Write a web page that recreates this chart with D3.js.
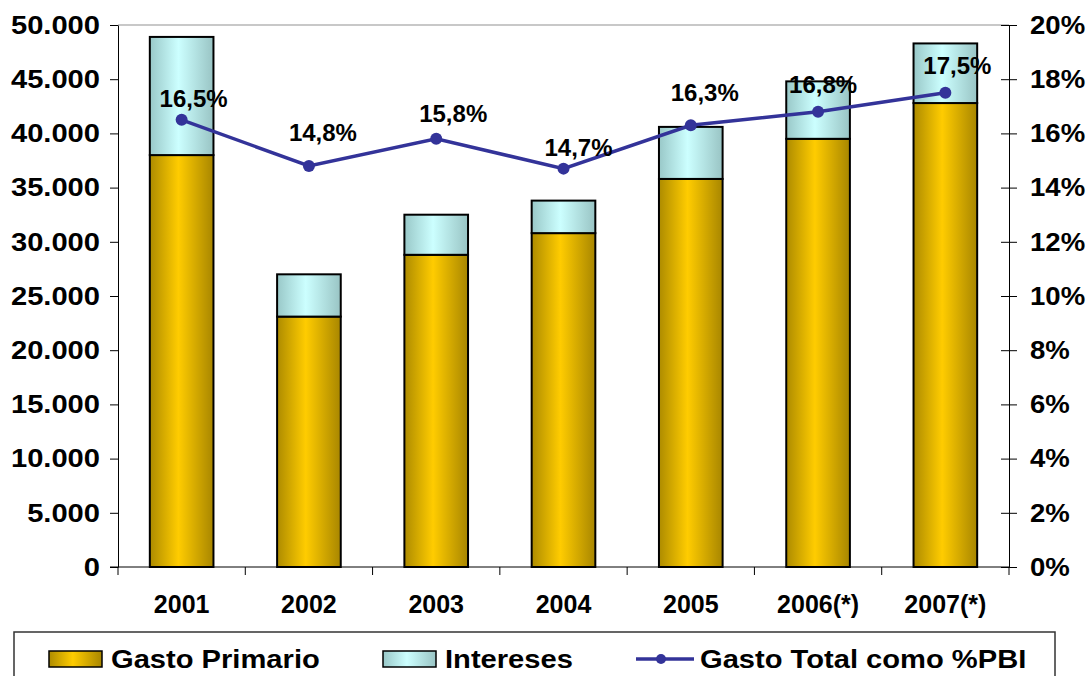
<!DOCTYPE html>
<html>
<head>
<meta charset="utf-8">
<script src="https://cdn.jsdelivr.net/npm/d3@7"></script>
<style>
  body { margin: 0; background: #fff; }
  svg { display: block; }
  text { font-family: "Liberation Sans", Arial, sans-serif; font-weight: bold; fill: #000; }
</style>
</head>
<body>
<svg id="chart" width="1088" height="676"></svg>
<script>
// data
const years = ['2001', '2002', '2003', '2004', '2005', '2006(*)', '2007(*)'];
const gastoPrimario = [38000, 23100, 28800, 30800, 35800, 39500, 42800];
const intereses = [10900, 3900, 3700, 3000, 4800, 5300, 5500];
const gastoTotalPBI = [16.5, 14.8, 15.8, 14.7, 16.3, 16.8, 17.5];
const leftTicks = [0, 5000, 10000, 15000, 20000, 25000, 30000, 35000, 40000, 45000, 50000];
const rightTicks = [0, 2, 4, 6, 8, 10, 12, 14, 16, 18, 20];
const seriesNames = ['Gasto Primario', 'Intereses', 'Gasto Total como %PBI'];

// hand placed label nudges (dx, dy from the marker), as in the original
const labelNudge = [[12, -13], [14, -25], [17, -17], [15, -13], [14, -24], [5, -19], [12, -19]];

const plot = { left: 118, right: 1009, top: 25, bottom: 567 };
const lineColor = '#333399';

const es = d3.formatLocale({ decimal: ',', thousands: '.', grouping: [3], currency: ['', ''] });
const fmtThousands = es.format(',');
const fmtPct = es.format('.1f');

// the original text is a bit wider than Liberation Sans
function stretch(sel, sx) {
  sel.each(function () {
    const w = this.getComputedTextLength();
    d3.select(this).attr('textLength', w * sx).attr('lengthAdjust', 'spacingAndGlyphs');
  });
}

const svg = d3.select('#chart');

const defs = svg.append('defs');
function gradient(id, edgeL, mid, edgeR) {
  const g = defs.append('linearGradient').attr('id', id)
    .attr('x1', 0).attr('x2', 1).attr('y1', 0).attr('y2', 0);
  g.append('stop').attr('offset', '0%').attr('stop-color', edgeL);
  g.append('stop').attr('offset', '45%').attr('stop-color', mid);
  g.append('stop').attr('offset', '100%').attr('stop-color', edgeR);
}
gradient('gold', '#ad8b00', '#ffcc00', '#a88600');
gradient('aqua', '#99c8c8', '#ccffff', '#99c4c4');

const x = d3.scaleBand()
  .domain(years)
  .range([plot.left, plot.right])
  .paddingInner(0.5)
  .paddingOuter(0.25);

const yL = d3.scaleLinear().domain([0, 50000]).range([plot.bottom, plot.top]);
const yR = d3.scaleLinear().domain([0, 20]).range([plot.bottom, plot.top]);

// plot area top border
svg.append('line')
  .attr('x1', plot.left).attr('x2', plot.right)
  .attr('y1', plot.top).attr('y2', plot.top)
  .attr('stroke', '#c8c8c8').attr('stroke-width', 2);

// stacked bars
const rows = years.map((y, i) => ({ year: y, primario: gastoPrimario[i], intereses: intereses[i] }));
const stack = d3.stack().keys(['primario', 'intereses'])(rows);
const fills = ['url(#gold)', 'url(#aqua)'];

svg.selectAll('.layer')
  .data(stack)
  .enter().append('g')
  .attr('class', 'layer')
  .attr('fill', (d, i) => fills[i])
  .selectAll('rect')
  .data(d => d)
  .enter().append('rect')
  .attr('x', d => x(d.data.year))
  .attr('y', d => yL(d[1]))
  .attr('width', x.bandwidth())
  .attr('height', d => yL(d[0]) - yL(d[1]))
  .attr('stroke', '#000')
  .attr('stroke-width', 2);

// left axis
const axL = svg.append('g')
  .attr('transform', `translate(${plot.left},0)`)
  .call(d3.axisLeft(yL).tickValues(leftTicks).tickFormat(fmtThousands).tickSize(8).tickPadding(10).tickSizeOuter(0));
axL.selectAll('text').style('font-size', '26px').call(stretch, 1.12);

// right axis, ticks crossing the line
const axR = svg.append('g')
  .attr('transform', `translate(${plot.right},0)`)
  .call(d3.axisRight(yR).tickValues(rightTicks).tickFormat(d => d + '%').tickSize(8).tickPadding(13).tickSizeOuter(0));
axR.selectAll('.tick line').attr('x1', -8);
axR.selectAll('text').style('font-size', '26px').call(stretch, 1.06);

// bottom axis: labels from band scale, ticks at category boundaries
const axB = svg.append('g')
  .attr('transform', `translate(0,${plot.bottom})`)
  .call(d3.axisBottom(x).tickSize(0).tickPadding(28));
axB.select('.domain').attr('d', `M${plot.left - 8},0H${plot.right}`);
axB.selectAll('text').style('font-size', '25px');
axB.selectAll('.bound')
  .data(d3.range(years.length + 1))
  .enter().append('line')
  .attr('class', 'bound')
  .attr('x1', i => plot.left + i * x.step())
  .attr('x2', i => plot.left + i * x.step())
  .attr('y1', 0).attr('y2', 8)
  .attr('stroke', '#000');

svg.selectAll('.domain').attr('stroke', '#000');
svg.selectAll('.tick line').attr('stroke', '#000');

// line series
const cx = d => x(d.year) + x.bandwidth() / 2;
const pts = years.map((y, i) => ({ year: y, v: gastoTotalPBI[i], i }));

svg.append('path')
  .datum(pts)
  .attr('fill', 'none')
  .attr('stroke', lineColor)
  .attr('stroke-width', 3.5)
  .attr('d', d3.line().x(cx).y(d => yR(d.v)));

svg.selectAll('.dot')
  .data(pts)
  .enter().append('circle')
  .attr('class', 'dot')
  .attr('cx', cx)
  .attr('cy', d => yR(d.v))
  .attr('r', 6)
  .attr('fill', lineColor);

svg.selectAll('.lbl')
  .data(pts)
  .enter().append('text')
  .attr('class', 'lbl')
  .attr('x', d => cx(d) + labelNudge[d.i][0])
  .attr('y', d => yR(d.v) + labelNudge[d.i][1])
  .attr('text-anchor', 'middle')
  .style('font-size', '24px')
  .text(d => fmtPct(d.v) + '%');

// legend
const legend = svg.append('g');
legend.append('rect')
  .attr('x', 14).attr('y', 632)
  .attr('width', 1041).attr('height', 70)
  .attr('fill', '#fff').attr('stroke', '#333').attr('stroke-width', 1.5);

const legX = [49, 383, 636];
[0, 1].forEach(i => {
  legend.append('rect')
    .attr('x', legX[i]).attr('y', 651)
    .attr('width', 53).attr('height', 16)
    .attr('fill', fills[i]).attr('stroke', '#000').attr('stroke-width', 1.5);
  legend.append('text')
    .attr('x', legX[i] + 62).attr('y', 668)
    .style('font-size', '26px')
    .text(seriesNames[i])
    .call(stretch, 1.12);
});
legend.append('line')
  .attr('x1', legX[2]).attr('x2', legX[2] + 58)
  .attr('y1', 659).attr('y2', 659)
  .attr('stroke', lineColor).attr('stroke-width', 3.5);
legend.append('circle')
  .attr('cx', legX[2] + 25).attr('cy', 659).attr('r', 5)
  .attr('fill', lineColor);
legend.append('text')
  .attr('x', legX[2] + 64).attr('y', 668)
  .style('font-size', '26px')
  .text(seriesNames[2])
  .call(stretch, 1.12);
</script>
</body>
</html>
